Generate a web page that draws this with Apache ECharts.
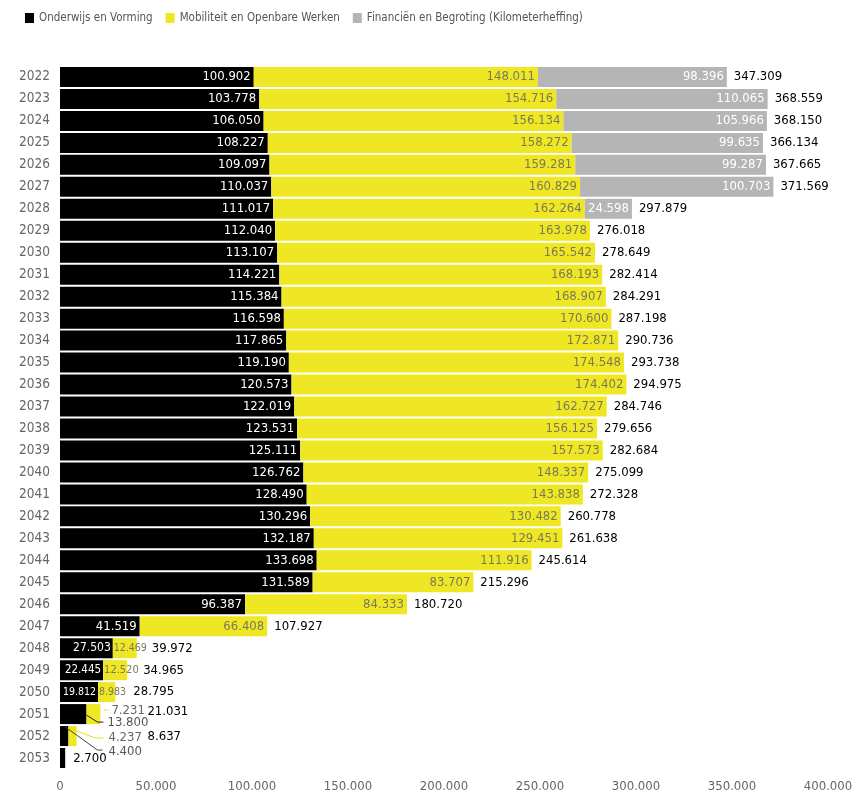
<!DOCTYPE html>
<html><head><meta charset="utf-8">
<script src="https://cdn.jsdelivr.net/npm/echarts@6/dist/echarts.min.js"></script>
<style>html,body{margin:0;padding:0;background:#fff}#c{width:861px;height:795px}</style>
</head><body><div id="c"></div>
<script>
const years = ['2022','2023','2024','2025','2026','2027','2028','2029','2030','2031','2032','2033','2034','2035','2036','2037','2038','2039','2040','2041','2042','2043','2044','2045','2046','2047','2048','2049','2050','2051','2052','2053'];
const onderwijs = [100902,103778,106050,108227,109097,110037,111017,112040,113107,114221,115384,116598,117865,119190,120573,122019,123531,125111,126762,128490,130296,132187,133698,131589,96387,41519,27503,22445,19812,13800,4400,2700];
const mobiliteit = [148011,154716,156134,158272,159281,160829,162264,163978,165542,168193,168907,170600,172871,174548,174402,162727,156125,157573,148337,143838,130482,129451,111916,83707,84333,66408,12469,12520,8983,7231,4237,null];
const financien = [98396,110065,105966,99635,99287,100703,24598,null,null,null,null,null,null,null,null,null,null,null,null,null,null,null,null,null,null,null,null,null,null,null,null,null];
const totals = [347309,368559,368150,366134,367665,371569,297879,276018,278649,282414,284291,287198,290736,293738,294975,284746,279656,282684,275099,272328,260778,261638,245614,215296,180720,107927,39972,34965,28795,21031,8637,2700];

const fmt = v => (v == null ? '' : String(v).replace(/\B(?=(\d{3})+(?!\d))/g, '.'));
const FONT = '"DejaVu Sans Condensed", "Liberation Sans", sans-serif';
const smallBlackSize = {'2048': 12, '2049': 11.5, '2050': 10.5};
const smallYellowSize = {'2048': 10.5, '2049': 11, '2050': 10.5};
const calloutYears = ['2051','2052'];

const chart = echarts.init(document.getElementById('c'));

function buildBlack() {
  return onderwijs.map((v, i) => {
    const y = years[i];
    if (smallBlackSize[y]) return {value: v, label: {fontSize: smallBlackSize[y], distance: 2}};
    if (calloutYears.includes(y) || y === '2053') return {value: v, label: {show: false}};
    return v;
  });
}
function buildYellow() {
  return mobiliteit.map((v, i) => {
    const y = years[i];
    if (smallYellowSize[y]) return {value: v, label: {fontSize: smallYellowSize[y], position: 'insideLeft', distance: 1}};
    if (calloutYears.includes(y)) return {value: v, label: {show: false}};
    return v;
  });
}
const totalOffsets = {'2048': [8, 0], '2049': [9, 0], '2050': [11, 0], '2051': [40, -2], '2052': [64, 1], '2053': [1, 1]};
function buildTotal() {
  return totals.map((v, i) => {
    const off = totalOffsets[years[i]];
    return off ? {value: v, label: {offset: off}} : v;
  });
}
// callout rows: [segment end, category index, segment start, kind(0 black / 1 yellow)]
function buildCallouts() {
  const out = [];
  years.forEach((y, i) => {
    if (!calloutYears.includes(y)) return;
    out.push([onderwijs[i], i, 0, 0]);
    out.push([onderwijs[i] + mobiliteit[i], i, onderwijs[i], 1]);
  });
  return out;
}

function renderCallout(params, api) {
  const x1 = api.value(0), cat = api.value(1), x0 = api.value(2), kind = api.value(3);
  const e = api.coord([x1, cat]);
  const s = api.coord([x0, cat]);
  const end = e[0], cy = e[1], start = s[0];
  const year = years[cat];
  let pts, tx, ty, lineColor, textColor;
  if (year === '2051' && kind === 0) {
    pts = [[end, cy + 1], [end + 11, cy + 8], [end + 17, cy + 8]]; tx = end + 21; ty = cy + 9; lineColor = '#222'; textColor = '#555';
  } else if (year === '2051') {
    pts = [[end + 3, cy - 4], [end + 8, cy - 4]]; tx = end + 11; ty = cy - 3; lineColor = '#e8e020'; textColor = '#666';
  } else if (kind === 0) {
    pts = [[end - 3, cy - 9], [end + 29, cy + 14], [end + 34, cy + 14]]; tx = end + 40; ty = cy + 16; lineColor = '#444'; textColor = '#555';
  } else {
    pts = [[start, cy - 8], [start + 27, cy + 2], [start + 35, cy + 2]]; tx = start + 40; ty = cy + 2; lineColor = '#e8e020'; textColor = '#666';
  }
  return {
    type: 'group',
    children: [
      {type: 'polyline', shape: {points: pts}, style: {stroke: lineColor, lineWidth: 1, fill: null}},
      {type: 'text', x: tx, y: ty, style: {text: fmt(x1 - x0), fill: textColor, font: '13px ' + FONT, textAlign: 'left', textVerticalAlign: 'middle'}}
    ]
  };
}

const labelBase = {show: true, position: 'insideRight', distance: 3, fontFamily: FONT, fontSize: 13, formatter: p => fmt(p.value)};

chart.setOption({
  animation: false,
  backgroundColor: '#fff',
  legend: {
    top: 7, left: 20,
    itemWidth: 9, itemHeight: 10, itemGap: 13,
    icon: 'rect',
    data: ['Onderwijs en Vorming', 'Mobiliteit en Openbare Werken', 'Financiën en Begroting (Kilometerheffing)'],
    textStyle: {fontFamily: FONT, fontSize: 11.5, color: '#555'}
  },
  grid: {left: 60, right: 33, top: 66, bottom: 26},
  xAxis: {
    type: 'value', min: 0, max: 400000, interval: 50000,
    axisLine: {show: false}, axisTick: {show: false}, splitLine: {show: false},
    axisLabel: {margin: 11, fontFamily: FONT, fontSize: 13, color: '#666', formatter: v => fmt(v)}
  },
  yAxis: {
    type: 'category', data: years, inverse: true,
    axisLine: {show: false}, axisTick: {show: false},
    axisLabel: {margin: 10, fontFamily: FONT, fontSize: 13.5, color: '#666'}
  },
  series: [
    {name: 'Onderwijs en Vorming', type: 'bar', stack: 's', barWidth: 20, data: buildBlack(),
     itemStyle: {color: '#000'}, label: Object.assign({}, labelBase, {color: '#fff'})},
    {name: 'Mobiliteit en Openbare Werken', type: 'bar', stack: 's', barWidth: 20, data: buildYellow(),
     itemStyle: {color: '#efe724'}, label: Object.assign({}, labelBase, {color: '#7a7a5a'})},
    {name: 'Financiën en Begroting (Kilometerheffing)', type: 'bar', stack: 's', barWidth: 20, data: financien,
     itemStyle: {color: '#b5b5b5'}, label: Object.assign({}, labelBase, {color: '#fff'})},
    {name: 'Totaal', type: 'bar', barWidth: 20, barGap: '-100%', data: buildTotal(), z: 0, silent: true,
     itemStyle: {color: 'rgba(0,0,0,0)'},
     label: {show: true, position: 'right', distance: 7, fontFamily: FONT, fontSize: 13, color: '#000', formatter: p => fmt(p.value)}},
    {name: 'callouts', type: 'custom', coordinateSystem: 'cartesian2d', silent: true, z: 5,
     encode: {x: 0, y: 1}, data: buildCallouts(), renderItem: renderCallout}
  ]
});
</script></body></html>
